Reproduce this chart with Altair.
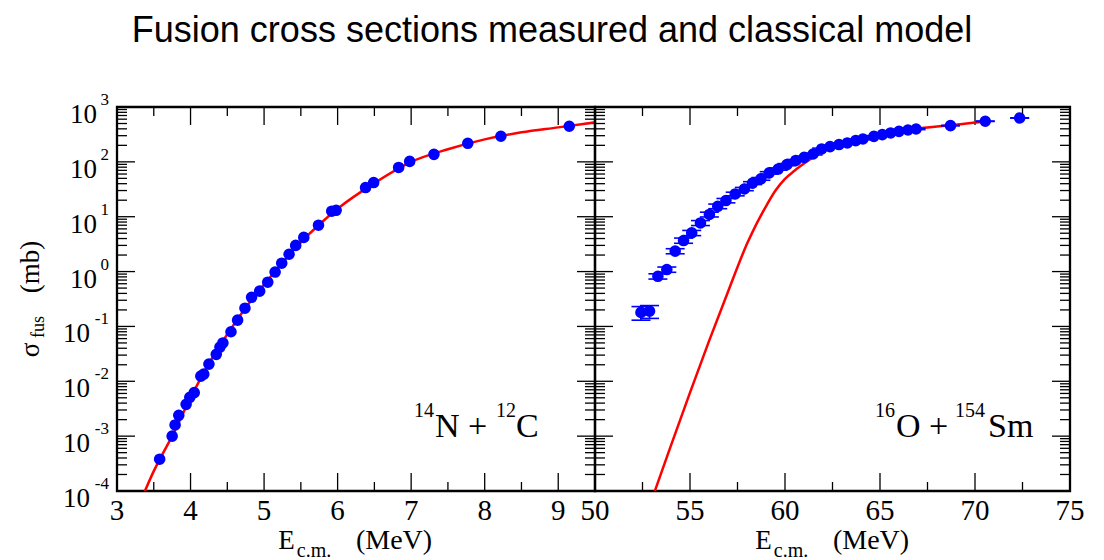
import altair as alt
import pandas as pd

# ---------------- data ----------------
# 14N + 12C measured fusion cross sections (E_cm in MeV, sigma in mb)
n_e = [3.58, 3.75, 3.79, 3.84, 3.94, 3.99, 4.05, 4.14, 4.18, 4.25, 4.35, 4.40,
       4.44, 4.55, 4.64, 4.74, 4.83, 4.94, 5.05, 5.15, 5.24, 5.34, 5.43, 5.54,
       5.74, 5.92, 5.98, 6.38, 6.49, 6.83, 6.98, 7.31, 7.77, 8.22, 9.15]
n_sig = [3.8e-4, 1.0e-3, 1.6e-3, 2.4e-3, 3.8e-3, 5.1e-3, 6.2e-3, 1.24e-2, 1.35e-2,
         2.06e-2, 3.1e-2, 4.2e-2, 5.0e-2, 8.0e-2, 0.13, 0.215, 0.34, 0.44, 0.64,
         0.98, 1.42, 2.07, 3.0, 4.2, 7.0, 12.6, 13.1, 34, 42, 79, 102, 137, 218,
         293, 446]
# classical model curve, 14N + 12C
n_model_e = [3.38, 3.5, 3.6, 3.75, 4.0, 4.25, 4.5, 4.75, 5.0, 5.25, 5.5, 5.75,
             6.0, 6.5, 7.0, 7.5, 8.0, 8.5, 9.0, 9.5]
n_model_sig = [1e-4, 2.3e-4, 4.2e-4, 1.0e-3, 5.0e-3, 2.1e-2, 7.2e-2, 0.22, 0.58,
               1.45, 3.4, 7.2, 14.0, 41, 100, 170, 257, 345, 425, 525]

# 16O + 154Sm measured fusion cross sections
o_e = [52.42, 52.87, 53.31, 53.78, 54.22, 54.66, 55.09, 55.55, 56.02, 56.46,
       56.89, 57.38, 57.86, 58.29, 58.73, 59.17, 59.64, 60.10, 60.57, 61.01,
       61.48, 61.93, 62.37, 62.84, 63.28, 63.72, 64.10, 64.68, 65.12, 65.56,
       66.00, 66.47, 66.90, 68.71, 70.54, 72.35]
o_sig = [0.18, 0.19, 0.82, 1.09, 2.36, 3.68, 5.07, 7.7, 11.0, 15.5, 19.7, 26,
         32, 41, 49, 63, 74, 89, 106, 121, 139, 172, 190, 207, 221, 244, 261,
         292, 314, 336, 360, 381, 397, 458, 550, 630]
o_err = [0.05, 0.05, 0.09, 0.12, 0.25, 0.4, 0.55, 0.8, 1.1, 1.5, 1.8, 2.0, 2.2,
         2.5, 2.8, 3.2, 3.5, 4, 4.5, 5, 5.5, 6, 6.5, 7, 7.5, 8, 8.5, 9, 9.5, 10,
         10, 10, 10, 5, 5, 5]
# classical model curve, 16O + 154Sm
o_model_e = [53.15, 54.0, 55.0, 56.0, 57.0, 58.0, 58.5, 59.0, 59.5, 60.0,
             60.5, 61.0, 61.5, 62.0, 63.0, 64.0, 65.0, 66.0, 67.0, 68.0, 69.0,
             70.0, 70.5]
o_model_sig = [1e-4, 6.8e-4, 6.2e-3, 0.054, 0.43, 3.2, 7.4, 15.5, 30, 49, 69,
               93, 123, 158, 213, 262, 312, 360, 405, 440, 475, 520, 545]

# axis ticks / labels
left_x_major = [3, 4, 5, 6, 7, 8, 9]
left_x_minor = [3.5, 4.5, 5.5, 6.5, 7.5, 8.5]
right_x_major = [50, 55, 60, 65, 70, 75]
right_x_minor = [52.5, 57.5, 62.5, 67.5, 72.5]
y_exponents = [-4, -3, -2, -1, 0, 1, 2, 3]
y_minor = [k * 10.0 ** e for e in range(-4, 3) for k in range(2, 10)]

TITLE = "Fusion cross sections measured and classical model"

# ---------------- styling ----------------
SERIF = "Liberation Serif"
SANS = "Liberation Sans"
BLUE = "#0000ff"
RED = "#ff0000"
W_L, W_R, H = 478, 475, 384

yscale = alt.Scale(type="log", domain=[1e-4, 1e3], nice=False)
ONE = pd.DataFrame({"a": [1]})


def xscale(dom):
    return alt.Scale(domain=dom, nice=False, zero=False)


def label(text, x, y, size, align="left", angle=None, font=SERIF):
    kw = dict(text=text, font=font, fontSize=size, align=align,
              baseline="alphabetic", color="black")
    if angle is not None:
        kw["angle"] = angle
    return alt.Chart(ONE).mark_text(**kw).encode(x=alt.value(x), y=alt.value(y))


def frame_ticks(xdom, xmaj, xmin, w):
    X = lambda: alt.X("x:Q", scale=xscale(xdom), axis=None)
    Y = lambda: alt.Y("y:Q", scale=yscale, axis=None)
    dmaj = pd.DataFrame({"x": xmaj})
    dmin = pd.DataFrame({"x": xmin})
    ymaj = pd.DataFrame({"y": [10.0 ** e for e in y_exponents]})
    ymin = pd.DataFrame({"y": y_minor})
    r = dict(color="black", strokeWidth=1.3)
    out = []
    for d, L in ((dmaj, 18), (dmin, 9)):
        out.append(alt.Chart(d).mark_rule(**r).encode(x=X(), y=alt.value(H), y2=alt.value(H - L)))
        out.append(alt.Chart(d).mark_rule(**r).encode(x=X(), y=alt.value(0), y2=alt.value(L)))
    for d, L in ((ymaj, 18), (ymin, 10)):
        out.append(alt.Chart(d).mark_rule(**r).encode(y=Y(), x=alt.value(0), x2=alt.value(L)))
        out.append(alt.Chart(d).mark_rule(**r).encode(y=Y(), x=alt.value(w), x2=alt.value(w - L)))
    # x tick labels
    dl = pd.DataFrame({"x": xmaj, "t": [str(v) for v in xmaj]})
    out.append(alt.Chart(dl).mark_text(font=SERIF, fontSize=29, align="center",
                                       baseline="alphabetic", color="black")
               .encode(x=X(), y=alt.value(H + 29), text="t:N"))
    return out


def xtitle(w_offset=0):
    return [
        label("E", 169.5 + w_offset, 442, 27, align="center"),
        label("c.m.", 197 + w_offset, 450, 20, align="center"),
        label("(MeV)", 277 + w_offset, 442, 28, align="center"),
    ]


# ---------------- left panel: 14N + 12C ----------------
LDOM = [3, 9.5]
ldata = pd.DataFrame({"E": n_e, "s": n_sig})
lmodel = pd.DataFrame({"E": n_model_e, "s": n_model_sig})

left_layers = []
# invisible anchor fixing the page offset of the plot area
left_layers.append(alt.Chart(ONE).mark_rule(color="white", strokeWidth=1)
                   .encode(x=alt.value(-107), y=alt.value(-97), y2=alt.value(-92)))
left_layers += frame_ticks(LDOM, left_x_major, left_x_minor, W_L)
left_layers.append(alt.Chart(lmodel).mark_line(color=RED, strokeWidth=2.5, interpolate="monotone", clip=True)
                   .encode(x=alt.X("E:Q", scale=xscale(LDOM), axis=None),
                           y=alt.Y("s:Q", scale=yscale, axis=None)))
left_layers.append(alt.Chart(ldata).mark_circle(size=135, color=BLUE, opacity=1)
                   .encode(x=alt.X("E:Q", scale=xscale(LDOM), axis=None),
                           y=alt.Y("s:Q", scale=yscale, axis=None)))
# y tick labels: "10" with superscript exponent
ylab = pd.DataFrame({"v": [10.0 ** e for e in y_exponents],
                     "e": [str(e) for e in y_exponents],
                     "neg": [e < 0 for e in y_exponents]})
for neg, xpos in ((False, -20), (True, -27)):
    left_layers.append(alt.Chart(ylab).transform_filter(
        alt.datum.neg if neg else ~alt.datum.neg)
        .mark_text(text="10", font=SERIF, fontSize=27, align="right",
                   baseline="alphabetic", dy=16, color="black")
        .encode(y=alt.Y("v:Q", scale=yscale, axis=None), x=alt.value(xpos)))
left_layers.append(alt.Chart(ylab).mark_text(font=SERIF, fontSize=17, align="right",
                                             baseline="alphabetic", dy=-2, color="black")
                   .encode(y=alt.Y("v:Q", scale=yscale, axis=None), x=alt.value(-8), text="e:N"))
# y title  sigma_fus (mb)
left_layers += [
    label("σ", -78, 243, 27, align="center", angle=270),
    label("fus", -73, 220, 18, align="center", angle=270),
    label("(mb)", -78, 160, 27, align="center", angle=270),
]
left_layers += xtitle()
# reaction label
left_layers += [
    label("14", 297, 310, 20),
    label("N +", 318, 330, 34),
    label("12", 379, 310, 20),
    label("C", 399, 330, 34),
]
# chart title
left_layers.append(label(TITLE, 435, -65, 36, align="center", font=SANS))

left = alt.layer(*left_layers).properties(width=W_L, height=H)

# ---------------- right panel: 16O + 154Sm ----------------
RDOM = [50, 75]
rdata = pd.DataFrame({"E": o_e, "s": o_sig,
                      "lo": [s - e for s, e in zip(o_sig, o_err)],
                      "hi": [s + e for s, e in zip(o_sig, o_err)]})
rmodel = pd.DataFrame({"E": o_model_e, "s": o_model_sig})
RX = lambda: alt.X("E:Q", scale=xscale(RDOM), axis=None)

right_layers = frame_ticks(RDOM, right_x_major, right_x_minor, W_R)
right_layers.append(alt.Chart(rmodel).mark_line(color=RED, strokeWidth=2.5, interpolate="monotone", clip=True)
                    .encode(x=RX(), y=alt.Y("s:Q", scale=yscale, axis=None)))
right_layers.append(alt.Chart(rdata).mark_rule(color=BLUE, strokeWidth=1.5)
                    .encode(x=RX(), y=alt.Y("lo:Q", scale=yscale, axis=None), y2="hi:Q"))
for fld in ("lo", "hi"):
    right_layers.append(alt.Chart(rdata).mark_tick(color=BLUE, orient="horizontal",
                                                   size=19, thickness=1.6, opacity=1)
                        .encode(x=RX(), y=alt.Y(f"{fld}:Q", scale=yscale, axis=None)))
right_layers.append(alt.Chart(rdata).mark_circle(size=135, color=BLUE, opacity=1)
                    .encode(x=RX(), y=alt.Y("s:Q", scale=yscale, axis=None)))
right_layers += xtitle(-1)
right_layers += [
    label("16", 280, 310, 20),
    label("O +", 301, 330, 34),
    label("154", 360, 310, 20),
    label("Sm", 393, 330, 34),
]

right = alt.layer(*right_layers).properties(width=W_R, height=H)

chart = (
    alt.hconcat(left, right, spacing=0, bounds="flush")
    .properties(padding=0)
    .configure_view(stroke="black", strokeWidth=2.3)
)

chart.save("out.html", embed_options={"renderer": "svg", "actions": False})
